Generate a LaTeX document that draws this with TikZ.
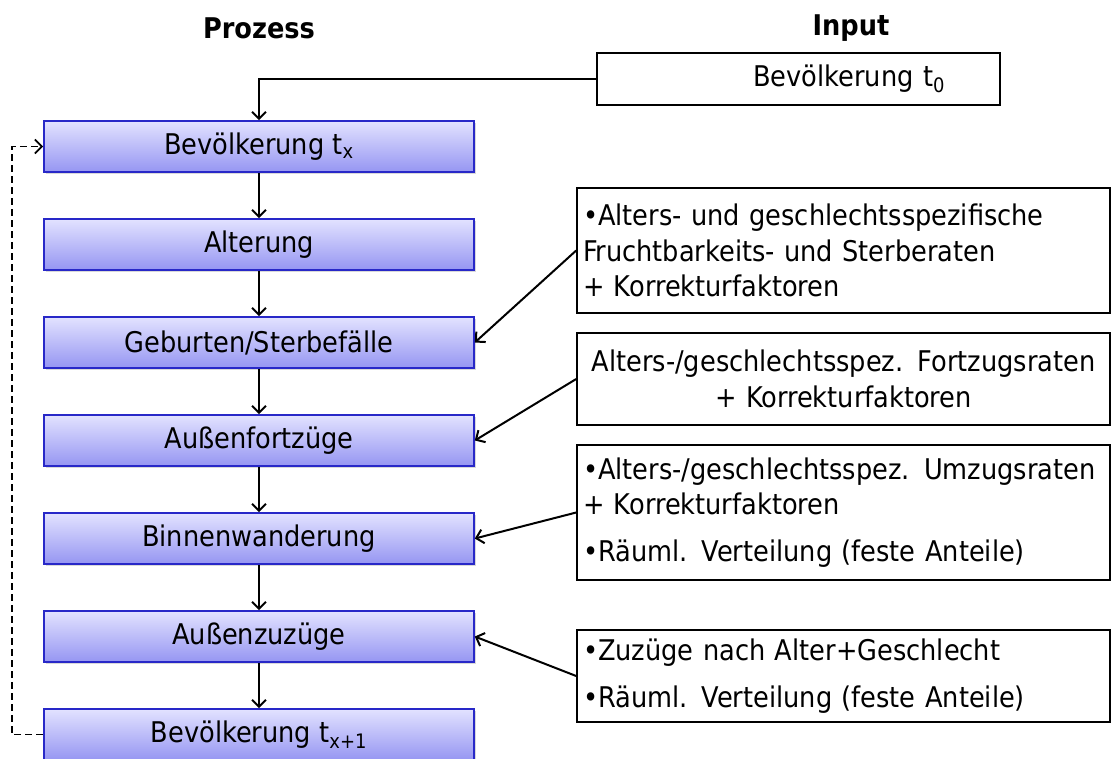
\documentclass[tikz,border=0pt]{standalone}
\usepackage{fontspec}
\setmainfont{DejaVu Sans Condensed}
\usetikzlibrary{arrows.meta,shadows}
\definecolor{procTop}{RGB}{226,226,255}
\definecolor{procBot}{RGB}{150,150,242}
\definecolor{procLine}{RGB}{40,40,200}
\newcommand{\bigtxt}{\fontsize{28.5}{35.5}\selectfont}
\begin{document}
\begin{tikzpicture}[x=1pt,y=-1pt,
  proc/.style={draw=procLine, line width=1.6pt, top color=procTop, bottom color=procBot,
    minimum width=430pt, minimum height=51pt, inner sep=0pt,
    drop shadow={shadow xshift=2pt,shadow yshift=-2pt,opacity=0.3}, font=\bigtxt},
  inbox/.style={draw, line width=1.6pt, fill=white, inner xsep=6pt, inner ysep=0pt,
    text width=521pt, minimum height=#1, font=\bigtxt},
  arr/.style={line width=2pt, -{Straight Barb[length=7pt,width=14pt]}},
  hdr/.style={font=\bigtxt\bfseries}
]
\useasboundingbox (0,0) rectangle (1115,758);

\node[hdr] (hp) at (259,28) {Prozess};
\node[hdr] (hi) at (851,28) {Input};

\node[proc] (p1) at (259,146.5) {Bevölkerung t\textsubscript{x}};
\node[proc] (p2) at (259,244.5) {Alterung};
\node[proc] (p3) at (259,342.5) {Geburten/Sterbefälle};
\node[proc] (p4) at (259,440.5) {Außenfortzüge};
\node[proc] (p5) at (259,538.5) {Binnenwanderung};
\node[proc] (p6) at (259,636.5) {Außenzuzüge};
\node[proc] (p7) at (259,734.5) {Bevölkerung t\textsubscript{x+1}};

\node[draw, line width=1.6pt, fill=white, inner xsep=55pt, text width=293pt, align=right,
  minimum height=52pt, font=\bigtxt] (i0) at (798.5,79) {Bevölkerung t\textsubscript{0}};

\node[inbox=125pt, align=left] (iA) at (843.5,250.5)
  {•Alters- und geschlechtsspezifische\\Fruchtbarkeits- und Sterberaten\\+ Korrekturfaktoren};
\node[inbox=92pt, align=center] (iB) at (843.5,379)
  {Alters-/geschlechtsspez. Fortzugsraten\\+ Korrekturfaktoren};
\node[inbox=135pt, align=left] (iC) at (843.5,512.5)
  {•Alters-/geschlechtsspez. Umzugsraten\\+ Korrekturfaktoren\\[11pt]•Räuml. Verteilung (feste Anteile)};
\node[inbox=92pt, align=left] (iD) at (843.5,676)
  {•Zuzüge nach Alter+Geschlecht\\[11pt]•Räuml. Verteilung (feste Anteile)};

\draw[arr] (i0.west) -| (p1.north);
\draw[arr] (p1.south) -- (p2.north);
\draw[arr] (p2.south) -- (p3.north);
\draw[arr] (p3.south) -- (p4.north);
\draw[arr] (p4.south) -- (p5.north);
\draw[arr] (p5.south) -- (p6.north);
\draw[arr] (p6.south) -- (p7.north);

\draw[arr] (iA.west) -- (p3.east);
\draw[arr] (iB.west) -- (p4.east);
\draw[arr] (iC.west) -- (p5.east);
\draw[arr] (iD.west) -- (p6.east);

\coordinate (fb) at (12,0);
\draw[arr, dash pattern=on 7pt off 4pt, line width=1.8pt] (p7.west) -- (p7.west -| fb) -- (p1.west -| fb) -- (p1.west);
\end{tikzpicture}
\end{document}
